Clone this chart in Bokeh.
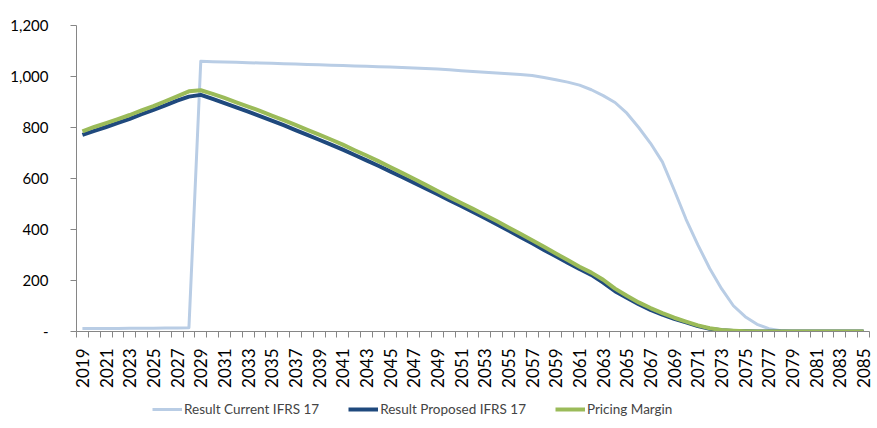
import math
from bokeh.plotting import figure
from bokeh.layouts import column
from bokeh.models import FixedTicker, Range1d, Legend, LegendItem, NumeralTickFormatter
from bokeh.embed import file_html
from bokeh.resources import INLINE

years = list(range(2019, 2086))

current_ifrs17 = [12, 12, 12, 12, 13, 13, 13, 14, 14, 15,
                  1060, 1058, 1057, 1056, 1054, 1053, 1052, 1050, 1049, 1047,
                  1046, 1044, 1043, 1041, 1040, 1038, 1037, 1035, 1033, 1031,
                  1029, 1026, 1023, 1020, 1017, 1014, 1011, 1008, 1004, 996,
                  987, 978, 966, 948, 925, 898, 856, 800, 738, 665,
                  555, 440, 340, 247, 168, 101, 58, 28, 11, 3,
                  0, 0, 0, 0, 0, 0, 0]

proposed_ifrs17 = [771, 787, 802, 818, 834, 852, 869, 887, 905, 921,
                   928, 912, 896, 879, 862, 845, 827, 809, 790, 771,
                   752, 733, 713, 692, 671, 650, 628, 606, 584, 561,
                   538, 515, 492, 469, 445, 421, 396, 371, 346, 320,
                   295, 270, 245, 222, 192, 158, 132, 107, 85, 66,
                   50, 36, 21, 11, 5, 2, 1, 0, 0, 0,
                   0, 0, 0, 0, 0, 0, 0]

pricing_margin = [785, 802, 817, 833, 849, 867, 884, 903, 922, 942,
                  946, 932, 916, 899, 882, 865, 847, 829, 810, 791,
                  772, 753, 733, 711, 690, 668, 645, 622, 599, 575,
                  551, 527, 504, 481, 457, 433, 408, 383, 358, 332,
                  306, 280, 254, 231, 203, 168, 140, 114, 92, 72,
                  54, 39, 24, 13, 6, 3, 1, 0, 0, 0,
                  0, 0, 0, 0, 0, 0, 0]

y_ticks = [0, 200, 400, 600, 800, 1000, 1200]

series_names = ["Result Current IFRS 17", "Result Proposed IFRS 17", "Pricing Margin"]
series_colors = ["#b9cde5", "#1f497d", "#9bbb59"]
series_widths = [3, 4, 4]

FONT = "Lato"
xs = list(range(len(years)))
all_series = [current_ifrs17, proposed_ifrs17, pricing_margin]

W = 875
p = figure(width=W, height=390, output_backend="svg", toolbar_location=None,
           x_range=Range1d(-0.5, len(years) - 0.5), y_range=Range1d(0, 1200),
           min_border_left=76, min_border_right=6, min_border_top=25, min_border_bottom=59)
p.outline_line_color = None
p.xgrid.visible = False
p.ygrid.visible = False

for ser, col, lw in zip(all_series, series_colors, series_widths):
    p.line(xs, ser, line_color=col, line_width=lw, line_join="round")

# x axis: labels every other year, tick marks at category boundaries
label_idx = list(range(0, len(years), 2))
p.xaxis.ticker = FixedTicker(ticks=label_idx,
                             minor_ticks=[i - 0.5 for i in range(len(years) + 1)])
p.xaxis.major_label_overrides = {i: str(years[i]) for i in label_idx}
p.xaxis.major_label_orientation = math.pi / 2
p.xaxis.major_tick_out = 0
p.xaxis.major_tick_in = 0
p.xaxis.minor_tick_out = 6
p.xaxis.minor_tick_in = 0
p.xaxis.minor_tick_line_color = "#868686"
p.xaxis.axis_line_color = "#868686"
p.xaxis.major_label_standoff = 11
p.xaxis.major_label_text_font = FONT
p.xaxis.major_label_text_font_size = "17px"
p.xaxis.major_label_text_color = "#000000"

p.yaxis.ticker = FixedTicker(ticks=y_ticks)
p.yaxis.formatter = NumeralTickFormatter(format="0,0")
p.yaxis.major_label_overrides = {0: "-"}
p.yaxis.major_tick_out = 6
p.yaxis.major_tick_in = 0
p.yaxis.minor_tick_out = 0
p.yaxis.minor_tick_in = 0
p.yaxis.major_tick_line_color = "#868686"
p.yaxis.axis_line_color = "#868686"
p.yaxis.major_label_standoff = 22
p.yaxis.major_label_text_font = FONT
p.yaxis.major_label_text_font_size = "15px"
p.yaxis.major_label_text_color = "#000000"

# Legend strip below the chart (its lines sit outside its visible range)
lg = figure(width=W, height=30, output_backend="svg", toolbar_location=None,
            x_range=Range1d(-0.5, len(years) - 0.5), y_range=Range1d(5000, 6000),
            x_axis_location=None, y_axis_location=None, min_border=0)
lg.grid.visible = False
lg.outline_line_color = None
items = []
for name, ser, col, lw in zip(series_names, all_series, series_colors, series_widths):
    r = lg.line(xs, ser, line_color=col, line_width=lw)
    items.append(LegendItem(label=name, renderers=[r]))
legend = Legend(items=items, orientation="horizontal", location=(76, 3),
                border_line_color=None, background_fill_alpha=0,
                label_text_font=FONT, label_text_font_size="13.5px",
                glyph_width=30, glyph_height=16, label_standoff=2, spacing=29,
                padding=0, margin=0)
lg.add_layout(legend, "center")

layout = column(p, lg, spacing=0)
open("out.html", "w").write(file_html(layout, INLINE))
